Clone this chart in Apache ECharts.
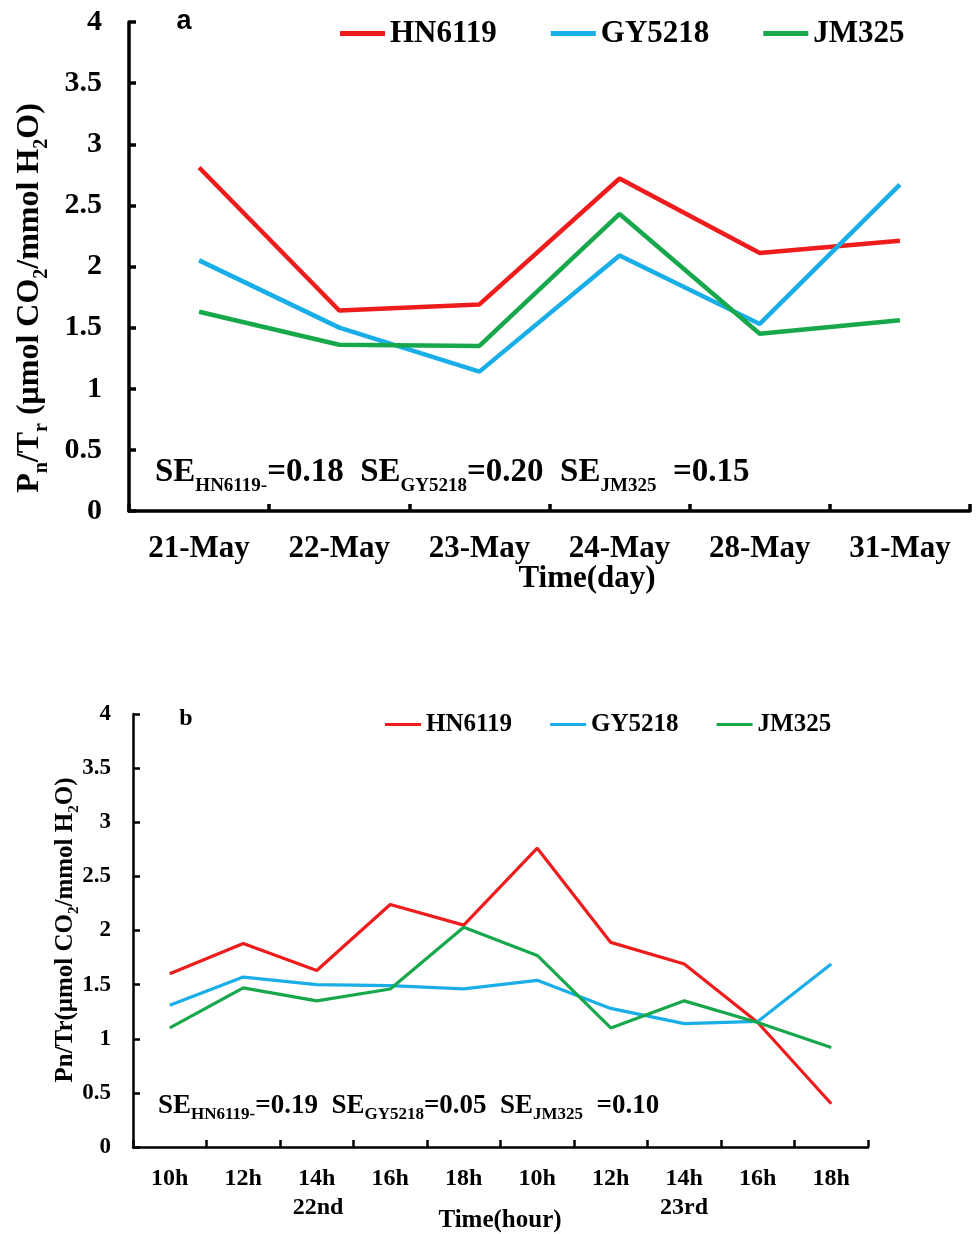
<!DOCTYPE html>
<html>
<head>
<meta charset="utf-8">
<script src="https://cdn.jsdelivr.net/npm/echarts@6/dist/echarts.min.js"></script>
<style>
  html, body { margin: 0; padding: 0; background: #fff; }
  #chart-container { width: 977px; height: 1234px; }
</style>
</head>
<body>
<div id="chart-container"></div>
<script>
// panel a: daily values
const days = ['21-May', '22-May', '23-May', '24-May', '28-May', '31-May'];
const hn6119Day = [2.81, 1.64, 1.69, 2.72, 2.11, 2.21];
const gy5218Day = [2.05, 1.50, 1.14, 2.09, 1.53, 2.67];
const jm325Day = [1.63, 1.36, 1.35, 2.43, 1.45, 1.56];

// panel b: hourly values on the 22nd and 23rd
const hours = ['10h', '12h', '14h', '16h', '18h', '10h', '12h', '14h', '16h', '18h'];
const hn6119Hour = [1.60, 1.88, 1.63, 2.24, 2.05, 2.76, 1.89, 1.69, 1.15, 0.40];
const gy5218Hour = [1.31, 1.57, 1.50, 1.49, 1.46, 1.54, 1.28, 1.14, 1.16, 1.69];
const jm325Hour = [1.10, 1.47, 1.35, 1.46, 2.03, 1.77, 1.10, 1.35, 1.15, 0.92];

const yTicks = [0, 0.5, 1, 1.5, 2, 2.5, 3, 3.5, 4];

const serif = '"Liberation Serif", "DejaVu Serif", serif';
const RED = '#ee1c1c';
const BLUE = '#1aaee8';
const GREEN = '#17a84b';

function yAxisFor(gridIndex, fontSize, lineW, margin) {
    return {
        gridIndex: gridIndex,
        type: 'value',
        min: yTicks[0],
        max: yTicks[yTicks.length - 1],
        interval: yTicks[1] - yTicks[0],
        axisLine: { show: true, lineStyle: { color: '#000', width: lineW } },
        axisTick: { show: true, inside: true, length: 7, lineStyle: { color: '#000', width: lineW } },
        splitLine: { show: false },
        axisLabel: {
            color: '#000', fontFamily: serif, fontWeight: 'bold', fontSize: fontSize, margin: margin
        }
    };
}

function xAxisFor(gridIndex, data, fontSize, lineW, margin) {
    return {
        gridIndex: gridIndex,
        type: 'category',
        data: data,
        axisLine: { show: true, lineStyle: { color: '#000', width: lineW } },
        axisTick: { show: true, inside: true, length: 7, lineStyle: { color: '#000', width: lineW } },
        axisLabel: {
            color: '#000', fontFamily: serif, fontWeight: 'bold', fontSize: fontSize,
            margin: margin, interval: 0
        }
    };
}

function lineSeries(name, data, color, idx, width) {
    return {
        name: name,
        type: 'line',
        xAxisIndex: idx,
        yAxisIndex: idx,
        data: data,
        symbol: 'none',
        color: color,
        lineStyle: { color: color, width: width }
    };
}

function label(text, x, y, size, family) {
    return {
        type: 'text',
        x: x,
        y: y,
        style: {
            text: text,
            fill: '#000',
            fontFamily: family || serif,
            fontWeight: 'bold',
            fontSize: size,
            align: 'center',
            verticalAlign: 'middle'
        }
    };
}

// text with subscripts: {t|...} normal, {s|...} subscript
function subText(text, x, y, size, subSize, lh, align, rotation) {
    const el = label(text, x, y, size);
    el.style.align = align;
    el.style.rich = {
        t: { fontFamily: serif, fontWeight: 'bold', fontSize: size, fill: '#000', lineHeight: lh },
        s: { fontFamily: serif, fontWeight: 'bold', fontSize: subSize, fill: '#000', lineHeight: lh, verticalAlign: 'bottom' }
    };
    if (rotation) el.rotation = rotation;
    return el;
}

const chart = echarts.init(document.getElementById('chart-container'));

const option = {
    backgroundColor: '#fff',
    animation: false,
    grid: [
        { left: 129, top: 22, width: 841, height: 489 },
        { left: 133, top: 714, width: 735, height: 433 }
    ],
    xAxis: [
        xAxisFor(0, days, 31, 3.5, 22),
        xAxisFor(1, hours, 24, 2.5, 20)
    ],
    yAxis: [
        yAxisFor(0, 30, 3.5, 27),
        yAxisFor(1, 23, 2.5, 22)
    ],
    legend: [
        {
            left: 340, top: 18, padding: 0,
            data: ['HN6119', 'GY5218', 'JM325'],
            icon: 'rect', itemWidth: 45, itemHeight: 5, itemGap: 54,
            textStyle: { color: '#000', fontFamily: serif, fontWeight: 'bold', fontSize: 31 }
        },
        {
            left: 385, top: 712, padding: 0,
            data: ['HN6119', 'GY5218', 'JM325'],
            icon: 'rect', itemWidth: 36, itemHeight: 3, itemGap: 38,
            textStyle: { color: '#000', fontFamily: serif, fontWeight: 'bold', fontSize: 25 }
        }
    ],
    series: [
        lineSeries('HN6119', hn6119Day, RED, 0, 4.5),
        lineSeries('GY5218', gy5218Day, BLUE, 0, 4.5),
        lineSeries('JM325', jm325Day, GREEN, 0, 4.5),
        lineSeries('HN6119', hn6119Hour, RED, 1, 3.2),
        lineSeries('GY5218', gy5218Hour, BLUE, 1, 3.2),
        lineSeries('JM325', jm325Hour, GREEN, 1, 3.2)
    ],
    graphic: [
        label('a', 184, 22, 27, '"Liberation Sans", Arial, sans-serif'),
        label('b', 186, 719, 24),
        label('Time(day)', 587, 579, 31),
        label('Time(hour)', 500, 1221, 25),
        label('22nd', 318, 1208, 24),
        label('23rd', 684, 1208, 24),
        subText('{t|SE}{s|HN6119-}{t|=0.18  SE}{s|GY5218}{t|=0.20  SE}{s|JM325}{t|  =0.15}',
            155, 472, 33, 19, 48, 'left'),
        subText('{t|SE}{s|HN6119-}{t|=0.19  SE}{s|GY5218}{t|=0.05  SE}{s|JM325}{t|  =0.10}',
            158, 1106, 27, 17, 35, 'left'),
        subText('{t|P}{s|n}{t|/T}{s|r}{t| (μmol CO}{s|2}{t|/mmol H}{s|2}{t|O)}',
            30, 298, 32, 20, 44, 'center', Math.PI / 2),
        subText('{t|Pn/Tr(μmol CO}{s|2}{t|/mmol H}{s|2}{t|O)}',
            66, 930, 25, 15, 32, 'center', Math.PI / 2)
    ]
};

chart.setOption(option);
</script>
</body>
</html>
